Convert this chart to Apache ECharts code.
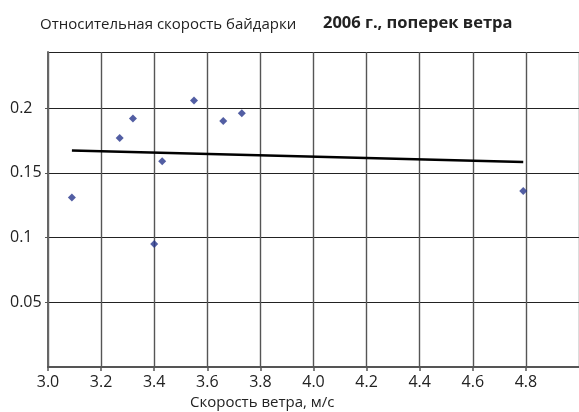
<!DOCTYPE html>
<html>
<head>
<meta charset="utf-8">
<script src="https://cdn.jsdelivr.net/npm/echarts@6/dist/echarts.min.js"></script>
<style>html,body{margin:0;padding:0;background:#fff}#c{width:579px;height:412px}</style>
</head>
<body>
<div id="c"></div>
<script>
var windSpeed = [3.09, 3.27, 3.32, 3.40, 3.43, 3.55, 3.66, 3.73, 4.79];
var relSpeed  = [0.131, 0.177, 0.192, 0.095, 0.159, 0.206, 0.190, 0.196, 0.136];
var trendX = [3.09, 4.79];
var trendY = [0.1672, 0.1584];
var titleLeft = 'Относительная скорость байдарки';
var titleRight = '2006 г., поперек ветра';
var xName = 'Скорость ветра, м/с';

var font = 'Open Sans';
var chart = echarts.init(document.getElementById('c'));
chart.setOption({
  animation: false,
  backgroundColor: '#fff',
  title: [
    {text: titleLeft, left: 35, top: 12, textStyle: {fontFamily: font, fontSize: 15, fontWeight: 'normal', color: '#222'}},
    {text: titleRight, left: 318, top: 10, textStyle: {fontFamily: font, fontSize: 16.5, fontWeight: 'bold', color: '#222'}}
  ],
  graphic: [
    {type: 'text', left: 190, top: 395, style: {text: xName, fontFamily: font, fontSize: 15, fill: '#222'}}
  ],
  grid: {left: 48, right: -10, top: 52, bottom: 45},
  xAxis: {
    type: 'value', min: 3.0, max: 5.0, interval: 0.2,
    axisLine: {lineStyle: {color: '#555', width: 2}},
    axisTick: {show: true, length: 4, lineStyle: {color: '#555', width: 1.5}},
    axisLabel: {fontFamily: font, fontSize: 16, color: '#222', margin: 7, showMaxLabel: false,
      formatter: function(v){ return v.toFixed(1); }},
    splitLine: {show: true, lineStyle: {color: '#555', width: 1.4}}
  },
  yAxis: {
    type: 'value', min: 0, max: 0.2434, interval: 0.05,
    axisLine: {show: true, lineStyle: {color: '#666', width: 2}},
    axisTick: {show: true, length: 3, lineStyle: {color: '#555'}},
    axisLabel: {fontFamily: font, fontSize: 16, color: '#222', align: 'left', margin: 38,
      showMinLabel: false, showMaxLabel: false,
      formatter: function(v){ return String(+v.toFixed(2)); }},
    splitLine: {show: true, lineStyle: {color: '#222', width: 1}}
  },
  series: [
    {type: 'line', data: trendX.map(function(x,i){return [x, trendY[i]];}),
     showSymbol: false, symbol: 'none', lineStyle: {color: '#000', width: 2.5}, z: 3},
    {type: 'scatter', data: windSpeed.map(function(x,i){return [x, relSpeed[i]];}),
     symbol: 'diamond', symbolSize: 8, itemStyle: {color: '#27368c'}, z: 4}
  ]
});
</script>
</body>
</html>
